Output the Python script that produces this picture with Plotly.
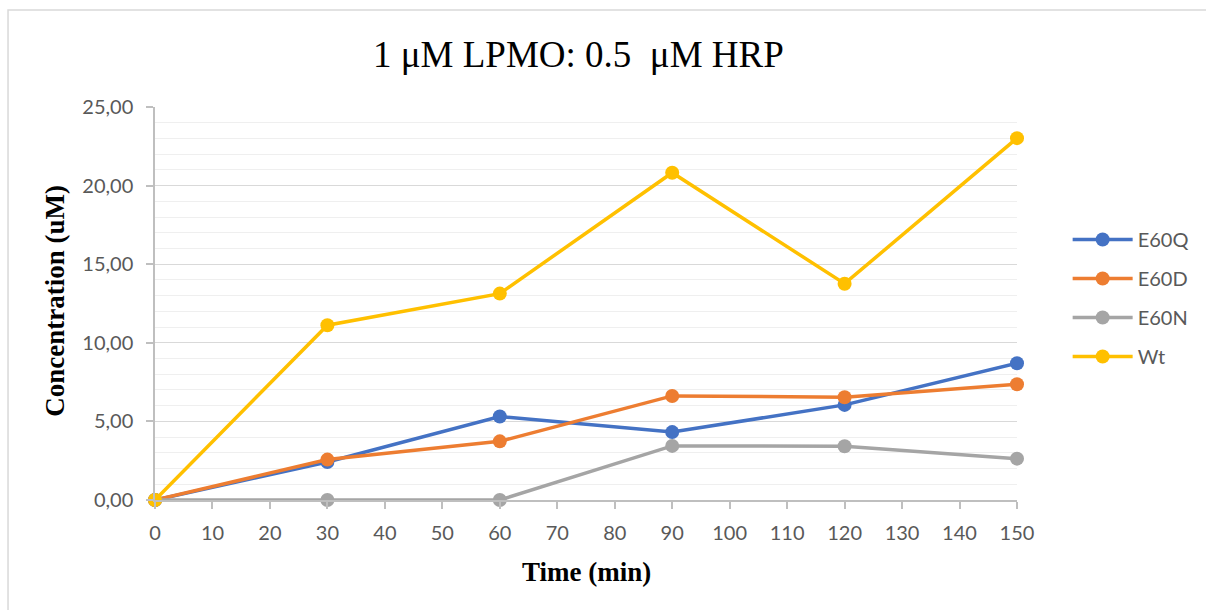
import plotly.graph_objects as go

# Sampling times (min)
time_min = [0, 30, 60, 90, 120, 150]

# Product concentration (uM) for each variant
e60q = [0.00, 2.42, 5.31, 4.32, 6.05, 8.70]
e60d = [0.00, 2.57, 3.73, 6.62, 6.54, 7.36]
e60n = [0.00, 0.00, 0.00, 3.44, 3.42, 2.63]
wt = [0.00, 11.12, 13.13, 20.82, 13.76, 23.02]

series_names = ["E60Q", "E60D", "E60N", "Wt"]
series_values = [e60q, e60d, e60n, wt]
series_colors = ["#4472C4", "#ED7D31", "#A5A5A5", "#FFC000"]

title_text = "1 \u03bcM LPMO: 0.5 \u00a0\u03bcM HRP"
x_title = "Time (min)"
y_title = "Concentration (uM)"

W, H = 1206, 610
L, R, T, B = 155, 183, 107, 110
pw, ph = W - L - R, H - T - B


def px_x(x):
    return (x - L) / pw


def px_y(y):
    return (H - B - y) / ph


tick_font = dict(family="Lato", size=20, color="#595959")

fig = go.Figure()
for name, vals, col in zip(series_names, series_values, series_colors):
    fig.add_trace(go.Scatter(
        x=time_min, y=vals, name=name, mode="lines+markers",
        line=dict(color=col, width=3.5),
        marker=dict(color=col, size=14),
        legendgroup=name, cliponaxis=False, hoverinfo="skip",
    ))

fig.update_layout(
    width=W, height=H,
    margin=dict(l=L, r=R, t=T, b=B),
    paper_bgcolor="white", plot_bgcolor="white",
    separators=",.",
    showlegend=True,
    legend=dict(
        x=px_x(1074), y=px_y(298), xanchor="left", yanchor="middle",
        font=tick_font, traceorder="grouped", tracegroupgap=10,
        itemwidth=60, bgcolor="rgba(0,0,0,0)",
    ),
    xaxis=dict(
        range=[0, 150], dtick=10, tick0=0,
        showgrid=False, zeroline=False,
        showline=True, linecolor="#BFBFBF", linewidth=1.5,
        ticks="outside", ticklen=7, tickwidth=1.5, tickcolor="#BFBFBF",
        tickfont=tick_font, ticklabelstandoff=7,
    ),
    yaxis=dict(
        range=[0, 25], dtick=5, tick0=0, tickformat=".2f",
        showgrid=True, gridcolor="#D9D9D9", gridwidth=1.3,
        minor=dict(dtick=1, showgrid=True, gridcolor="#EFEFEF", gridwidth=1.3),
        zeroline=False,
        showline=True, linecolor="#BFBFBF", linewidth=1.5,
        ticks="outside", ticklen=7, tickwidth=1.5, tickcolor="#BFBFBF",
        tickfont=tick_font, ticklabelstandoff=9,
    ),
    shapes=[dict(
        type="rect", xref="paper", yref="paper",
        x0=px_x(7), x1=px_x(1300), y0=px_y(700), y1=px_y(10),
        line=dict(color="#D9D9D9", width=1.5), fillcolor="rgba(0,0,0,0)",
        layer="below",
    )],
    annotations=[
        dict(text=title_text, xref="paper", yref="paper",
             x=px_x(581), y=px_y(55), xanchor="center", yanchor="middle",
             showarrow=False,
             font=dict(family="Liberation Serif", size=37, color="#000000")),
        dict(text="<b>%s</b>" % x_title, xref="paper", yref="paper",
             x=px_x(589), y=px_y(572), xanchor="center", yanchor="middle",
             showarrow=False,
             font=dict(family="Liberation Serif", size=27, color="#000000")),
        dict(text="<b>%s</b>" % y_title, xref="paper", yref="paper",
             x=px_x(54), y=px_y(301), xanchor="center", yanchor="middle",
             textangle=-90, showarrow=False,
             font=dict(family="Liberation Serif", size=27, color="#000000")),
    ],
)

fig.write_html("out.html")
